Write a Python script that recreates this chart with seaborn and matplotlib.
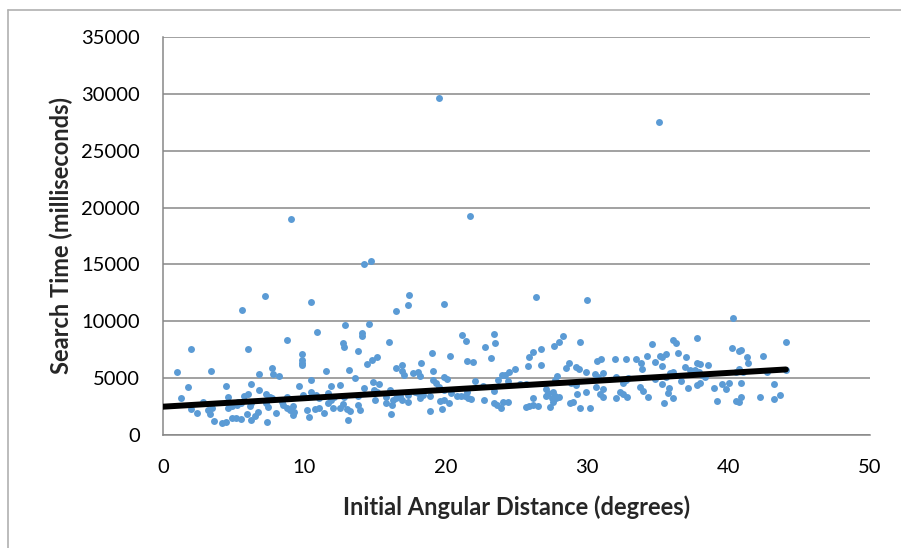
import numpy as np
import pandas as pd
import matplotlib
matplotlib.use("Agg")
import matplotlib.pyplot as plt
import seaborn as sns
from matplotlib.lines import Line2D

# values, grouped roughly left to right
angle_a = [7.2, 10.5, 5.6, 10.9, 8.75, 1.98, 6.0, 9.85, 9.8, 9.8, 9.8, 7.7, 1.0, 3.4, 6.8, 7.8, 8.2, 11.5,
           10.5, 6.2, 1.77, 4.46, 9.6, 6.8, 11.9, 10.5, 10.8, 11.0, 11.65, 12.1, 1.3, 4.6, 6.0, 5.75, 7.3,
           7.6, 7.7, 8.8, 9.9, 2.85, 5.3, 5.1, 5.5, 6.2, 6.15, 7.3, 7.45, 8.4, 8.5, 8.75, 9.0, 9.2, 9.3,
           9.2, 1.98, 2.4, 3.16, 3.3, 3.5, 4.6, 4.85, 5.2, 6.75, 6.5, 5.96, 8.0, 10.2, 10.3, 10.75, 11.0,
           11.4, 11.7, 11.85, 12.05, 3.6, 4.15, 4.43, 4.9, 5.16, 5.5, 6.2, 7.35]
time_a = [12220, 11700, 10960, 9060, 8350, 7540, 7540, 7100, 6600, 6360, 6130, 5920, 5570, 5600, 5360,
          5340, 5190, 5660, 4870, 4460, 4190, 4280, 4310, 3980, 4340, 3810, 3520, 3230, 3670, 3320, 3250,
          3370, 3600, 3430, 3600, 3370, 3280, 3370, 3520, 2870, 2930, 2790, 2840, 2840, 2550, 2790, 2490,
          2930, 2640, 2350, 2200, 2550, 2050, 1730, 2290, 1960, 2200, 1850, 2370, 2350, 2550, 2640, 2050,
          1700, 1850, 1900, 2200, 1580, 2260, 2350, 1960, 2790, 3080, 2350, 1230, 1030, 1140, 1470, 1520,
          1380, 1290, 1140]

angle_b = [17.4, 17.3, 16.5, 19.9, 12.9, 14.6, 12.75, 12.8, 14.05, 14.1, 16.0, 13.8, 14.4, 14.76, 15.1,
           13.15, 13.6, 14.83, 15.3, 14.2, 16.5, 16.9, 16.9, 17.05, 17.7, 18.0, 18.2, 18.25, 19.0, 19.1,
           19.1, 19.3, 19.5, 19.9, 20.1, 19.9, 20.3, 21.15, 21.4, 21.5, 21.9, 22.8, 23.4, 23.5, 23.2, 22.1,
           22.6, 23.4, 23.7, 23.95, 24.2, 24.5, 24.9, 24.4, 12.5, 12.8, 13.8, 14.9, 15.1, 15.0, 15.8, 16.05,
           15.8, 16.2, 16.3, 16.5, 16.75, 16.9, 17.3, 17.35, 17.8, 18.05, 18.2, 18.4, 18.9, 19.6, 19.9,
           20.2, 20.35, 20.8, 21.05, 21.35, 21.5, 21.6, 21.8, 22.7, 23.4, 23.6, 23.9, 24.05, 24.4, 12.75,
           13.0, 13.2, 13.8, 13.9, 13.1, 16.1, 18.9, 19.7, 12.5]
time_b = [12340, 11400, 10930, 11520, 9650, 9730, 8060, 7710, 8940, 8730, 8150, 7410, 6240, 6600, 6890,
          5720, 4990, 4630, 4480, 4100, 5920, 6160, 5630, 5250, 5430, 5570, 5190, 6300, 7180, 5650, 4840,
          4550, 4250, 5070, 4900, 3960, 6950, 8790, 8290, 6530, 6390, 7710, 8880, 8060, 6800, 4750, 4310,
          3870, 4840, 5280, 5280, 5570, 5800, 4780, 4400, 3370, 3430, 3960, 3810, 3080, 3370, 3960, 2840,
          2640, 3080, 3230, 3430, 3080, 2930, 3520, 3810, 3670, 3230, 3520, 3430, 3020, 3080, 2790, 3720,
          3430, 3430, 3430, 3810, 3230, 3140, 3080, 2840, 2640, 2350, 2900, 2930, 2700, 2290, 2140, 2640,
          2200, 1320, 1820, 2140, 2290, 2350]

angle_c = [26.35, 30.0, 28.3, 28.0, 27.65, 26.2, 26.7, 25.9, 25.8, 26.7, 29.5, 28.7, 28.5, 29.2, 29.45,
           29.9, 30.7, 31.0, 32.0, 32.75, 33.45, 33.8, 33.85, 34.2, 34.55, 34.8, 35.15, 35.3, 35.6, 35.3,
           36.05, 36.25, 36.4, 37.0, 37.75, 37.8, 25.25, 25.7, 27.7, 27.85, 27.1, 27.6, 27.1, 27.2, 27.5,
           27.7, 28.0, 26.2, 25.7, 25.9, 26.2, 26.5, 27.4, 27.6, 27.8, 28.8, 29.0, 28.85, 29.2, 29.3, 29.5,
           30.2, 29.95, 30.6, 30.9, 31.15, 31.15, 30.55, 30.75, 31.1, 32.05, 32.55, 32.75, 32.9, 32.05,
           32.3, 32.55, 32.8, 33.7, 33.95, 34.3, 34.8, 35.3, 35.6, 35.85, 36.1, 35.75, 35.7, 36.1, 35.4,
           36.6, 36.9, 37.15, 37.3, 37.6, 37.9, 37.75]
time_c = [12160, 11870, 8730, 8200, 7830, 7330, 7540, 6890, 6070, 6180, 8150, 6360, 5860, 5950, 5800,
          5540, 6530, 6680, 6660, 6660, 6680, 6360, 5800, 6970, 8000, 6450, 6970, 6890, 7100, 6100, 8350,
          8060, 7180, 6890, 8500, 6300, 4460, 4460, 4840, 5190, 4020, 3810, 3430, 3670, 3230, 3430, 3370,
          3280, 2490, 2550, 2640, 2550, 2490, 2930, 3230, 2790, 2930, 4550, 4400, 3580, 2350, 2350, 3810,
          4190, 3600, 3370, 4050, 5340, 5130, 5430, 5070, 4600, 4840, 5040, 3230, 3810, 3600, 3370, 4250,
          3870, 3370, 4900, 4480, 5070, 5480, 5510, 4100, 3670, 3280, 2790, 4780, 6000, 4100, 5720, 5720,
          5510, 4400]

angle_d = [40.3, 44.05, 40.25, 40.7, 40.9, 41.3, 41.4, 42.45, 38.55, 38.0, 38.1, 38.35, 38.0, 40.5, 40.75,
           41.0, 42.75, 44.05, 39.0, 39.5, 39.8, 40.05, 40.9, 43.2, 39.15, 40.5, 40.75, 40.9, 42.2, 43.2, 43.6]
time_d = [10320, 8150, 7620, 7410, 7470, 6890, 6360, 6970, 6160, 6240, 5280, 5070, 4550, 5570, 5770, 5570,
          5570, 5720, 4100, 4480, 4020, 4600, 4600, 4480, 3020, 3020, 2930, 3310, 3370, 3140, 3540]

# the few long searches
angle_out = [19.55, 35.05, 9.05, 21.7, 14.2, 14.7]
time_out = [29610, 27500, 19020, 19260, 15010, 15300]

# linear trendline as drawn in the chart (many overlapping points can't be read back)
trend_angle = [0, 44.05]
trend_time = [2490, 5763]

df = pd.DataFrame({
    "angle": angle_a + angle_b + angle_c + angle_d + angle_out,
    "time": time_a + time_b + time_c + time_d + time_out,
})
trend = pd.DataFrame({"angle": trend_angle, "time": trend_time})

sns.set_style("white")
plt.rcParams["font.family"] = ["Lato", "DejaVu Sans"]

grid_col = "#878787"
fig, ax = plt.subplots(figsize=(9.01, 5.48), dpi=100)
fig.subplots_adjust(left=0.1809, right=0.9656, top=0.9325, bottom=0.2062)

sns.scatterplot(data=df, x="angle", y="time", color="#5B9BD5", s=25, linewidth=0, ax=ax, zorder=3)
sns.lineplot(data=trend, x="angle", y="time", color="black", lw=4.3, ax=ax, zorder=4)

ax.set_xlim(0, 50)
ax.set_ylim(0, 35000)
ax.set_xticks(range(0, 51, 10))
ax.set_yticks(range(0, 35001, 5000))
ax.yaxis.grid(True, color=grid_col, lw=1.1)
ax.set_axisbelow(True)
sns.despine(ax=ax)
for side in ["left", "bottom"]:
    ax.spines[side].set_color(grid_col)
    ax.spines[side].set_linewidth(1.1)
ax.tick_params(axis="both", direction="out", length=4.5, width=1.1, color=grid_col,
               labelsize=14.5, labelcolor="black")
ax.tick_params(axis="y", pad=12)
ax.tick_params(axis="x", pad=13)

ax.set_xlabel("Initial Angular Distance (degrees)", fontsize=17, fontweight="bold", labelpad=14)
ax.set_ylabel("Search Time (milliseconds)", fontsize=17, fontweight="bold", labelpad=6)

# chart border (only top and left are inside the crop)
fig.add_artist(Line2D([8 / 901, 8 / 901], [0, 1 - 10 / 548], color="#b0b0b0", lw=1.2))
fig.add_artist(Line2D([8 / 901, 1], [1 - 10 / 548, 1 - 10 / 548], color="#b0b0b0", lw=1.2))

fig.savefig("out.png", dpi=100)
